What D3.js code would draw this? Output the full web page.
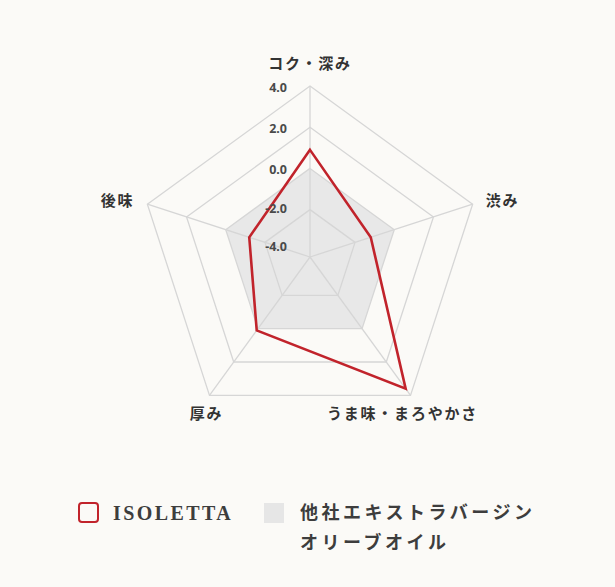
<!DOCTYPE html>
<html lang="ja">
<head>
  <meta charset="UTF-8">
  <title>Radar</title>
  <style>
    html, body {
      margin: 0;
      padding: 0;
      background: #fbfaf7;
    }
    svg {
      display: block;
    }
    .axis-label {
      font-family: "Noto Sans CJK JP", sans-serif;
      font-weight: 700;
      font-size: 15px;
      letter-spacing: 1.8px;
      fill: #333;
    }
    .tick-label {
      font-family: "Noto Sans", "DejaVu Sans", sans-serif;
      font-weight: 700;
      font-size: 12.5px;
      fill: #4a4a4a;
    }
    .legend-label {
      font-size: 18px;
      letter-spacing: 3.5px;
      fill: #3d3d3d;
    }
  </style>
  <script src="https://d3js.org/d3.v7.min.js"></script>
</head>
<body>
  <div id="chart"></div>
  <script>
    // ---- data ----
    const categories = ["コク・深み", "渋み", "うま味・まろやかさ", "厚み", "後味"];
    const isolettaValues = [0.9, -1.2, 3.6, 0.1, -1.2];
    const otherValues = [0, 0, 0, 0, 0];
    const tickValues = [-4, -2, 0, 2, 4];
    const seriesNames = ["ISOLETTA", "他社エキストラバージン", "オリーブオイル"];

    // ---- setup ----
    const width = 615;
    const height = 587;
    const cx = 310;
    const cy = 257;
    const radius = 171;

    const svg = d3.select("#chart")
      .append("svg")
      .attr("width", width)
      .attr("height", height);

    svg.append("rect")
      .attr("width", width)
      .attr("height", height)
      .attr("fill", "#fbfaf7");

    const r = d3.scaleLinear().domain([-4.3, 4]).range([0, radius]);
    const angle = d3.scaleLinear()
      .domain([0, categories.length])
      .range([-Math.PI / 2, 1.5 * Math.PI]);

    const g = svg.append("g").attr("transform", `translate(${cx},${cy})`);

    function point(i, v) {
      const a = angle(i);
      return [Math.cos(a) * r(v), Math.sin(a) * r(v)];
    }

    const polyLine = d3.line().curve(d3.curveLinearClosed);

    // other brand fill (under the grid)
    g.append("path")
      .attr("d", polyLine(otherValues.map((v, i) => point(i, v))))
      .attr("fill", "#e8e8e8")
      .attr("stroke", "none");

    // grid rings
    tickValues.filter(t => r(t) > 10).forEach(t => {
      g.append("path")
        .attr("d", polyLine(categories.map((c, i) => point(i, t))))
        .attr("fill", "none")
        .attr("stroke", "#d6d6d6")
        .attr("stroke-width", 1.3);
    });

    // spokes
    categories.forEach((c, i) => {
      const [x, y] = point(i, 4);
      g.append("line")
        .attr("x1", 0).attr("y1", 0)
        .attr("x2", x).attr("y2", y)
        .attr("stroke", "#d6d6d6")
        .attr("stroke-width", 1.3);
    });

    // ISOLETTA line
    g.append("path")
      .attr("d", polyLine(isolettaValues.map((v, i) => point(i, v))))
      .attr("fill", "none")
      .attr("stroke", "#c1232b")
      .attr("stroke-width", 2.6)
      .attr("stroke-linejoin", "miter");

    // tick labels
    tickValues.forEach(t => {
      g.append("text")
        .attr("class", "tick-label")
        .attr("x", -23)
        .attr("y", -r(t))
        .attr("dy", t === -4 ? "0.05em" : t === -2 ? "0.25em" : "0.45em")
        .attr("text-anchor", "end")
        .text(t.toFixed(1));
    });

    // axis labels
    categories.forEach((c, i) => {
      const a = angle(i);
      const [x, y] = point(i, 4);
      const cos = Math.cos(a);
      const sin = Math.sin(a);
      let lx = x, ly = y, anchor = "middle";
      if (Math.abs(cos) < 0.1) {
        ly = y - 22;
      } else if (sin < 0) {
        anchor = cos > 0 ? "start" : "end";
        lx = x + (cos > 0 ? 13 : -13);
        ly = y - 3;
      } else {
        lx = x - (cos > 0 ? 8 : 3);
        ly = y + 18;
      }
      g.append("text")
        .attr("class", "axis-label")
        .attr("x", lx)
        .attr("y", ly)
        .attr("dy", "0.35em")
        .attr("text-anchor", anchor)
        .text(c);
    });

    // ---- legend ----
    const legend = svg.append("g");

    legend.append("rect")
      .attr("x", 79).attr("y", 503)
      .attr("width", 19).attr("height", 19)
      .attr("rx", 3)
      .attr("fill", "none")
      .attr("stroke", "#c1232b")
      .attr("stroke-width", 2);

    legend.append("text")
      .attr("class", "legend-label")
      .attr("x", 113).attr("y", 513)
      .attr("dy", "0.35em")
      .style("font-family", "'Liberation Serif', 'DejaVu Serif', serif")
      .style("font-weight", 700)
      .style("font-size", "20px")
      .style("letter-spacing", "2.4px")
      .text(seriesNames[0]);

    legend.append("rect")
      .attr("x", 264).attr("y", 503)
      .attr("width", 20).attr("height", 20)
      .attr("fill", "#e6e6e6");

    legend.append("text")
      .attr("class", "legend-label")
      .attr("x", 300).attr("y", 513)
      .attr("dy", "0.35em")
      .style("font-family", "'Noto Sans CJK JP', sans-serif")
      .style("font-weight", 700)
      .text(seriesNames[1]);

    legend.append("text")
      .attr("class", "legend-label")
      .attr("x", 300).attr("y", 543)
      .attr("dy", "0.35em")
      .style("font-family", "'Noto Sans CJK JP', sans-serif")
      .style("font-weight", 700)
      .text(seriesNames[2]);
  </script>
</body>
</html>
